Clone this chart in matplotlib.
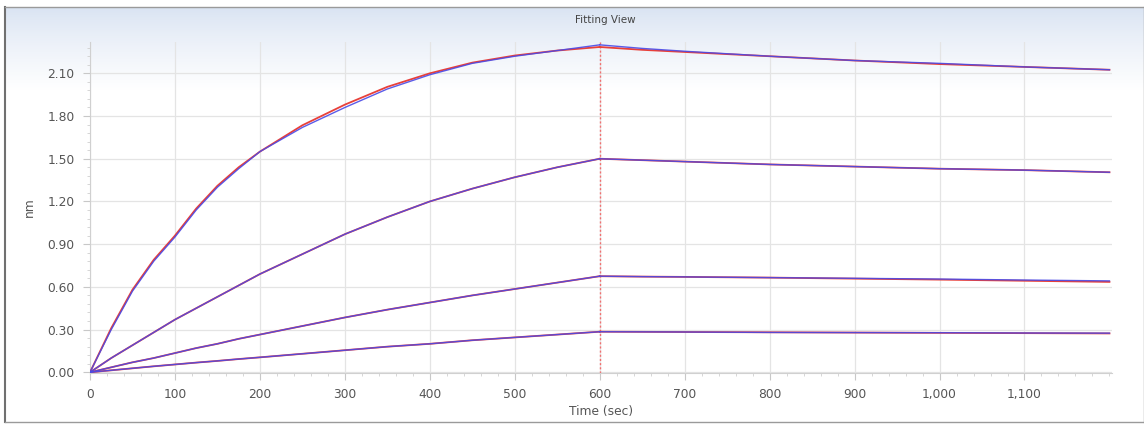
import numpy as np
import matplotlib
matplotlib.use("Agg")
import matplotlib.pyplot as plt
from matplotlib.ticker import MultipleLocator, FuncFormatter

# ---- data ----
t_assoc = [0, 25, 50, 75, 100, 125, 150, 175, 200, 250, 300, 350, 400, 450, 500, 550, 600]
t_dissoc = [600, 650, 700, 800, 900, 1000, 1100, 1200]

c1_data_a = [0, 0.30, 0.57, 0.78, 0.95, 1.14, 1.30, 1.43, 1.55, 1.72, 1.86, 1.99, 2.09, 2.17, 2.22, 2.26, 2.30]
c1_fit_a = [0, 0.31, 0.58, 0.79, 0.96, 1.15, 1.31, 1.44, 1.55, 1.735, 1.88, 2.005, 2.10, 2.175, 2.225, 2.26, 2.285]
c1_data_d = [2.30, 2.275, 2.255, 2.22, 2.19, 2.17, 2.145, 2.125]
c1_fit_d = [2.285, 2.265, 2.25, 2.22, 2.19, 2.165, 2.145, 2.125]

c2_data_a = [0, 0.10, 0.19, 0.28, 0.37, 0.45, 0.53, 0.61, 0.69, 0.83, 0.97, 1.09, 1.20, 1.29, 1.37, 1.44, 1.50]
c2_fit_a = c2_data_a
c2_data_d = [1.50, 1.49, 1.48, 1.46, 1.445, 1.43, 1.42, 1.405]
c2_fit_d = c2_data_d

c3_data_a = [0, 0.035, 0.07, 0.10, 0.135, 0.17, 0.20, 0.235, 0.265, 0.325, 0.385, 0.44, 0.49, 0.54, 0.585, 0.63, 0.675]
c3_fit_a = c3_data_a
c3_data_d = [0.675, 0.672, 0.67, 0.665, 0.66, 0.655, 0.648, 0.642]
c3_fit_d = [0.675, 0.672, 0.67, 0.665, 0.658, 0.651, 0.643, 0.635]

c4_data_a = [0, 0.014, 0.028, 0.042, 0.055, 0.068, 0.08, 0.093, 0.105, 0.13, 0.155, 0.18, 0.20, 0.225, 0.245, 0.265, 0.285]
c4_fit_a = c4_data_a
c4_data_d = [0.285, 0.284, 0.283, 0.28, 0.279, 0.278, 0.276, 0.275]
c4_fit_d = [0.285, 0.284, 0.283, 0.281, 0.279, 0.277, 0.275, 0.273]

step_time = 600
x_ticks = [0, 100, 200, 300, 400, 500, 600, 700, 800, 900, 1000, 1100]
y_ticks = [0.00, 0.30, 0.60, 0.90, 1.20, 1.50, 1.80, 2.10]

W, H = 1144, 425
fig = plt.figure(figsize=(W / 100, H / 100), dpi=100)
fig.patch.set_facecolor("white")

# panel background with gradient
bg = fig.add_axes([5 / W, 1 - 422 / H, 1139 / W, 415 / H])
grad = np.linspace(0, 1, 256)
top = np.array([0.85, 0.89, 0.95])
white = np.array([1.0, 1.0, 1.0])
w = np.clip(grad / 0.2, 0, 1)[:, None] ** 0.8
img = top * (1 - w) + white * w
bg.imshow(img[:, None, :], aspect="auto", extent=[0, 1, 0, 1])
bg.set_xticks([]); bg.set_yticks([])
for s in bg.spines.values():
    s.set_color("#9a9a9a")
    s.set_linewidth(1.0)
bg.spines["left"].set_color("#707070")
bg.spines["left"].set_linewidth(1.5)

ax = fig.add_axes([90 / W, 1 - 373 / H, (1112 - 90) / W, (373 - 42) / H])
ax.patch.set_alpha(0)
ax.set_xlim(0, 1203)
ax.set_ylim(-0.005, 2.32)

red = "#e8403a"
blue = "#4a4ae6"
for fa, fd in [(c1_fit_a, c1_fit_d), (c2_fit_a, c2_fit_d), (c3_fit_a, c3_fit_d), (c4_fit_a, c4_fit_d)]:
    ax.plot(t_assoc, fa, color=red, lw=1.3, zorder=3)
    ax.plot(t_dissoc, fd, color=red, lw=1.3, zorder=3)
for da, dd in [(c1_data_a, c1_data_d), (c2_data_a, c2_data_d), (c3_data_a, c3_data_d), (c4_data_a, c4_data_d)]:
    ax.plot(t_assoc, da, color=blue, lw=1.0, alpha=0.9, zorder=4)
    ax.plot(t_dissoc, dd, color=blue, lw=1.0, alpha=0.9, zorder=4)

ax.axvline(step_time, color="#f07070", lw=1.0, ls=(0, (1.5, 1.5)), zorder=2)

ax.set_xticks(x_ticks)
ax.xaxis.set_major_formatter(FuncFormatter(lambda v, p: f"{int(v):,}"))
ax.set_yticks(y_ticks)
ax.yaxis.set_major_formatter(FuncFormatter(lambda v, p: f"{v:.2f}"))
ax.xaxis.set_minor_locator(MultipleLocator(20))
ax.yaxis.set_minor_locator(MultipleLocator(0.06))
ax.grid(True, which="major", color="#e4e4e4", lw=0.9, zorder=0)
ax.tick_params(which="major", length=5, color="#c8c8c8", labelsize=8.8, labelcolor="#555555", pad=6)
ax.tick_params(which="minor", length=2.5, color="#d0d0d0")
for side in ["top", "right"]:
    ax.spines[side].set_visible(False)
for side in ["left", "bottom"]:
    ax.spines[side].set_color("#d0d0d0")

ax.set_xlabel("Time (sec)", fontsize=8.8, color="#555555", labelpad=3)
ax.set_ylabel("nm", fontsize=8.8, color="#555555", labelpad=8)

fig.text(605 / W, 1 - 20 / H, "Fitting View", ha="center", va="center", fontsize=7.5, color="#444444")

fig.savefig("out.png", dpi=100)
